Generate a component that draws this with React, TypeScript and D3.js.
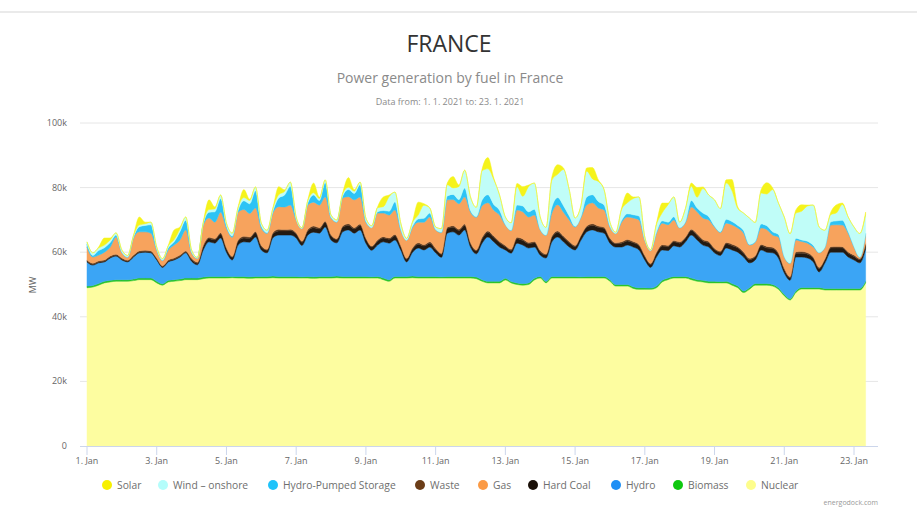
import * as d3 from "d3";
import { useEffect, useRef } from "react";

// samples every 4 hours from 1. 1. 2021 00:00, values in GW
const sampleHours = [0, 4, 8, 12, 16, 20];

const nuclear = [
  49.0, 49.2, 49.8, 50.5, 50.8, 51.0,
  51.0, 51.0, 51.2, 51.5, 51.5, 51.5,
  50.5, 49.8, 50.8, 51.0, 51.2, 51.5,
  51.5, 51.5, 51.8, 52.0, 52.0, 52.0,
  52.0, 52.1, 52.0, 52.0, 51.9, 52.0,
  52.0, 52.0, 52.1, 52.0, 52.0, 52.0,
  52.0, 52.0, 52.0, 51.9, 52.0, 52.0,
  52.0, 52.1, 52.0, 52.0, 52.0, 52.0,
  52.0, 52.0, 52.0, 51.5, 51.0, 52.0,
  52.0, 52.0, 52.1, 52.0, 52.0, 52.0,
  52.0, 52.0, 52.0, 52.0, 52.0, 52.0,
  52.0, 51.8, 51.0, 50.5, 50.5, 50.5,
  51.4, 50.5, 50.0, 49.8, 50.0, 51.4,
  52.0, 50.5, 52.0, 52.0, 52.0, 52.0,
  52.0, 52.0, 52.0, 52.0, 52.0, 52.0,
  51.0, 49.5, 49.5, 49.5, 48.8, 48.5,
  48.5, 48.5, 49.0, 50.8, 51.5, 52.0,
  52.0, 52.0, 51.5, 51.0, 50.8, 50.5,
  50.5, 50.5, 50.5, 49.8, 49.0, 47.5,
  48.5, 49.8, 49.8, 49.8, 49.5, 48.5,
  46.5, 45.2, 47.5, 48.6, 48.6, 48.6,
  48.6, 48.3, 48.3, 48.3, 48.3, 48.3,
  48.3, 48.3, 50.5,
];

const biomass = [
  0.5, 0.5, 0.5, 0.5, 0.5, 0.5,
  0.5, 0.5, 0.5, 0.5, 0.5, 0.5,
  0.5, 0.4, 0.5, 0.5, 0.5, 0.5,
  0.5, 0.5, 0.5, 0.5, 0.5, 0.5,
  0.5, 0.4, 0.5, 0.5, 0.5, 0.5,
  0.5, 0.5, 0.5, 0.5, 0.5, 0.5,
  0.5, 0.4, 0.5, 0.5, 0.5, 0.5,
  0.5, 0.5, 0.5, 0.5, 0.5, 0.5,
  0.5, 0.4, 0.5, 0.5, 0.5, 0.5,
  0.5, 0.5, 0.5, 0.5, 0.5, 0.5,
  0.5, 0.4, 0.5, 0.5, 0.5, 0.5,
  0.5, 0.5, 0.5, 0.5, 0.5, 0.5,
  0.5, 0.4, 0.5, 0.5, 0.5, 0.5,
  0.5, 0.5, 0.5, 0.5, 0.5, 0.5,
  0.5, 0.4, 0.5, 0.5, 0.5, 0.5,
  0.5, 0.5, 0.5, 0.5, 0.5, 0.5,
  0.5, 0.4, 0.5, 0.5, 0.5, 0.5,
  0.5, 0.5, 0.5, 0.5, 0.5, 0.5,
  0.5, 0.4, 0.5, 0.5, 0.5, 0.5,
  0.5, 0.5, 0.5, 0.5, 0.5, 0.5,
  0.5, 0.4, 0.5, 0.5, 0.5, 0.5,
  0.5, 0.5, 0.5, 0.5, 0.5, 0.5,
  0.5, 0.5, 0.5,
];

const hydro = [
  7.5, 6.3, 6.4, 6.0, 6.9, 7.3,
  6.1, 5.5, 6.8, 7.8, 8.0, 7.8,
  6.6, 5.1, 5.7, 6.1, 6.8, 7.8,
  5.2, 4.1, 8.4, 10.7, 10.3, 11.9,
  7.5, 5.1, 9.7, 10.7, 10.7, 12.2,
  8.2, 7.3, 11.9, 12.8, 12.8, 12.8,
  11.9, 9.7, 12.8, 13.8, 13.4, 15.3,
  11.3, 10.3, 13.8, 14.4, 13.4, 14.4,
  10.3, 8.2, 9.7, 11.2, 11.3, 11.3,
  8.2, 4.5, 7.3, 8.8, 8.2, 9.1,
  7.3, 6.0, 13.4, 13.8, 12.8, 14.4,
  9.1, 7.2, 11.3, 13.7, 12.2, 10.6,
  8.8, 8.8, 12.3, 11.9, 10.8, 9.7,
  6.6, 7.2, 10.7, 12.2, 10.7, 9.1,
  8.2, 11.3, 13.8, 14.4, 13.8, 13.4,
  11.3, 11.6, 11.6, 12.2, 12.3, 11.7,
  8.6, 6.4, 9.0, 9.4, 8.5, 9.5,
  9.1, 10.7, 13.3, 12.3, 10.9, 10.6,
  8.8, 8.1, 10.3, 10.4, 10.5, 10.5,
  7.7, 7.3, 10.4, 9.7, 9.8, 9.2,
  6.6, 5.7, 10.5, 9.4, 9.1, 7.9,
  4.8, 7.9, 11.2, 11.2, 11.2, 9.7,
  8.8, 7.9, 10.0,
];

const hardCoal = [
  0.2, 0.2, 0.2, 0.2, 0.2, 0.2,
  0.2, 0.2, 0.2, 0.2, 0.2, 0.2,
  0.2, 0.2, 0.2, 0.2, 0.2, 0.2,
  0.5, 0.5, 1.0, 1.0, 1.0, 1.2,
  1.0, 0.8, 1.2, 1.2, 1.2, 1.3,
  1.0, 0.8, 1.2, 1.3, 1.3, 1.4,
  1.2, 1.0, 1.3, 1.4, 1.3, 1.4,
  1.2, 1.0, 1.4, 1.4, 1.3, 1.4,
  1.2, 1.0, 1.2, 1.2, 1.2, 1.3,
  1.0, 0.8, 1.0, 1.2, 1.2, 1.2,
  1.0, 0.9, 1.4, 1.4, 1.4, 1.4,
  1.0, 0.9, 1.4, 1.4, 1.4, 1.3,
  1.0, 0.9, 1.4, 1.4, 1.3, 1.3,
  1.0, 0.9, 1.4, 1.4, 1.4, 1.3,
  1.0, 1.2, 1.4, 1.4, 1.4, 1.4,
  1.2, 1.0, 1.2, 1.3, 1.3, 1.3,
  1.0, 0.9, 1.1, 1.2, 1.2, 1.2,
  1.2, 1.2, 1.4, 1.4, 1.3, 1.3,
  1.0, 1.0, 1.3, 1.3, 1.3, 1.2,
  1.0, 1.0, 1.3, 1.3, 1.3, 1.2,
  1.0, 0.8, 1.2, 1.2, 1.2, 1.1,
  1.0, 1.0, 1.3, 1.3, 1.3, 1.2,
  1.1, 1.0, 1.2,
];

const waste = [
  0.4, 0.4, 0.4, 0.4, 0.4, 0.4,
  0.4, 0.3, 0.4, 0.4, 0.4, 0.4,
  0.4, 0.3, 0.4, 0.4, 0.4, 0.4,
  0.4, 0.3, 0.4, 0.4, 0.4, 0.4,
  0.4, 0.3, 0.4, 0.5, 0.4, 0.4,
  0.4, 0.3, 0.4, 0.5, 0.4, 0.4,
  0.4, 0.3, 0.4, 0.5, 0.4, 0.4,
  0.4, 0.3, 0.4, 0.5, 0.4, 0.4,
  0.4, 0.3, 0.4, 0.4, 0.4, 0.4,
  0.4, 0.3, 0.4, 0.4, 0.4, 0.4,
  0.4, 0.3, 0.4, 0.5, 0.4, 0.4,
  0.4, 0.3, 0.4, 0.5, 0.4, 0.4,
  0.4, 0.3, 0.4, 0.5, 0.4, 0.4,
  0.4, 0.3, 0.4, 0.5, 0.4, 0.4,
  0.4, 0.3, 0.4, 0.5, 0.4, 0.4,
  0.4, 0.3, 0.4, 0.4, 0.4, 0.4,
  0.4, 0.3, 0.4, 0.4, 0.4, 0.4,
  0.4, 0.3, 0.4, 0.5, 0.4, 0.4,
  0.4, 0.3, 0.4, 0.5, 0.4, 0.4,
  0.4, 0.3, 0.4, 0.5, 0.4, 0.4,
  0.4, 0.3, 0.4, 0.5, 0.4, 0.4,
  0.4, 0.3, 0.4, 0.5, 0.4, 0.4,
  0.4, 0.3, 0.4,
];

const gas = [
  4.0, 1.9, 1.8, 2.4, 2.8, 5.3,
  1.6, 0.9, 5.3, 5.9, 5.7, 5.5,
  2.5, 1.6, 3.1, 4.0, 4.7, 6.5,
  1.7, 1.2, 6.3, 6.0, 5.1, 6.4,
  6.1, 5.9, 8.6, 8.3, 7.3, 7.3,
  5.4, 4.9, 6.1, 7.0, 7.0, 7.5,
  4.0, 3.9, 7.6, 7.4, 7.0, 7.5,
  5.2, 5.1, 8.7, 8.4, 8.6, 8.4,
  4.9, 5.7, 8.3, 7.3, 7.1, 7.6,
  4.8, 5.6, 6.3, 6.4, 7.0, 7.7,
  5.7, 6.5, 8.5, 8.1, 7.9, 8.4,
  9.4, 10.1, 9.8, 8.7, 8.0, 8.2,
  6.3, 5.8, 8.5, 8.4, 7.9, 8.2,
  6.4, 5.8, 7.1, 8.1, 7.4, 6.7,
  5.7, 5.5, 6.5, 6.5, 5.6, 5.4,
  3.4, 2.9, 6.1, 7.0, 7.3, 7.6,
  4.8, 4.0, 5.9, 6.7, 6.4, 6.4,
  4.3, 4.5, 6.9, 6.8, 6.7, 6.7,
  6.6, 5.8, 6.0, 6.0, 5.8, 5.8,
  4.1, 4.2, 5.1, 5.2, 3.8, 4.9,
  3.5, 4.1, 3.7, 3.1, 3.0, 3.1,
  4.5, 3.5, 6.7, 6.7, 6.7, 5.8,
  2.5, 0.4, 3.0,
];

const pumpedStorage = [
  1.0, 0.5, 1.4, 1.4, 1.4, 0.6,
  0.2, 0.1, 0.3, 1.6, 2.0, 2.6,
  0.2, 0.1, 0.7, 1.0, 2.6, 3.0,
  0.2, 0.0, 0.3, 1.8, 3.2, 4.2,
  0.7, 0.4, 0.5, 2.7, 3.0, 5.3,
  0.6, 0.2, 0.5, 2.7, 3.7, 5.8,
  0.2, 0.0, 0.6, 2.2, 1.4, 4.5,
  0.2, 0.1, 0.6, 2.2, 2.0, 3.8,
  0.3, 0.0, 0.4, 0.8, 1.2, 2.5,
  0.3, 0.0, 0.4, 1.0, 1.2, 1.2,
  0.1, 0.1, 1.2, 1.6, 1.3, 2.8,
  0.5, 0.2, 1.8, 2.5, 1.8, 1.5,
  0.2, 0.1, 1.5, 1.8, 1.6, 1.8,
  0.2, 0.1, 1.8, 2.2, 2.0, 1.2,
  0.2, 0.3, 2.5, 2.5, 2.0, 1.5,
  0.2, 0.0, 0.5, 1.0, 1.0, 1.2,
  0.0, 0.0, 0.3, 0.7, 0.8, 1.0,
  0.1, 0.3, 2.0, 1.2, 1.5, 1.0,
  0.3, 0.2, 1.2, 1.0, 0.8, 0.8,
  0.2, 0.2, 1.2, 1.2, 1.0, 0.8,
  0.2, 0.1, 0.5, 0.5, 0.6, 0.5,
  0.1, 0.1, 1.0, 1.2, 1.5, 0.5,
  0.2, 0.1, 0.3,
];

const windOnshore = [
  0.6, 0.8, 0.8, 0.8, 0.8, 0.7,
  0.7, 0.5, 0.4, 0.5, 0.5, 0.8,
  0.7, 0.5, 0.6, 0.7, 0.8, 1.0,
  0.7, 0.3, 0.4, 0.8, 0.9, 1.1,
  0.8, 0.9, 0.9, 1.0, 1.0, 1.2,
  0.9, 0.8, 0.9, 1.0, 1.1, 1.3,
  0.7, 0.3, 0.8, 0.7, 0.6, 0.8,
  0.7, 0.6, 0.7, 0.7, 0.7, 0.8,
  1.0, 0.6, 1.3, 1.2, 4.5, 3.0,
  1.8, 0.6, 1.2, 1.2, 4.0, 1.6,
  0.8, 1.1, 3.5, 2.0, 4.0, 5.5,
  4.2, 2.9, 9.0, 8.0, 7.7, 4.7,
  2.3, 2.3, 5.7, 3.0, 7.8, 8.1,
  3.8, 2.4, 8.4, 7.2, 11.2, 8.1,
  2.6, 3.4, 8.0, 4.9, 6.2, 4.7,
  1.3, 0.4, 3.4, 3.4, 5.0, 5.9,
  0.9, 0.3, 2.3, 2.5, 5.4, 6.1,
  1.7, 4.1, 4.4, 3.3, 7.6, 6.7,
  8.1, 7.2, 11.2, 9.5, 5.2, 5.4,
  8.2, 5.9, 9.6, 9.8, 13.1, 9.7,
  12.2, 9.1, 7.8, 8.9, 10.9, 12.5,
  7.9, 5.2, 2.2, 2.5, 4.9, 4.5,
  6.0, 7.3, 5.7,
];

const solar = [
  0, 0, 0.3, 2.2, 0.6, 0,
  0, 0, 0.2, 2.5, 0.5, 0,
  0, 0, 0.2, 3.0, 0.6, 0,
  0, 0, 0.2, 3.0, 0.6, 0,
  0, 0, 0.2, 2.5, 0.4, 0,
  0, 0, 0.2, 2.5, 0.5, 0,
  0, 0, 0.2, 3.0, 0.4, 0,
  0, 0, 0.2, 3.0, 0.4, 0,
  0, 0, 0.2, 3.0, 0.5, 0,
  0, 0, 0.2, 4.0, 0.5, 0,
  0, 0, 0.5, 3.5, 0.5, 0,
  0, 0, 0.6, 3.5, 0.5, 0,
  0, 0, 1.0, 3.0, 0.5, 0,
  0, 0, 1.0, 3.0, 0.5, 0,
  0, 0, 1.0, 3.5, 0.5, 0,
  0, 0, 0.5, 3.0, 0.5, 0,
  0, 0, 0.5, 3.0, 0.5, 0,
  0, 0, 1.0, 3.0, 0.5, 0,
  0, 0, 1.0, 3.5, 0.5, 0,
  0, 0, 1.0, 3.5, 0.5, 0,
  0, 0, 1.0, 2.0, 0.3, 0,
  0, 0, 0.8, 2.5, 0.4, 0,
  0, 0, 0.8,
];

const xTickDays = [1, 3, 5, 7, 9, 11, 13, 15, 17, 19, 21, 23];
const yTicks = [0, 20, 40, 60, 80, 100];
const yTickLabels = ["0", "20k", "40k", "60k", "80k", "100k"];

// legend order (top of stack first)
const legendNames = ["Solar", "Wind – onshore", "Hydro-Pumped Storage", "Waste", "Gas", "Hard Coal", "Hydro", "Biomass", "Nuclear"];
const legendColors = ["#f7f000", "#b4fdfb", "#1fc3fa", "#6b3d18", "#fb9a45", "#1a1008", "#1e8ff5", "#0fc80f", "#fdfd8c"];
const legendX = [107, 163, 273, 420, 483, 533, 616, 678, 751];

const stackKeys = ["nuclear", "biomass", "hydro", "hardCoal", "waste", "gas", "pumpedStorage", "windOnshore", "solar"];
const areaColors: Record<string, string> = {
  nuclear: "#fdfda0",
  biomass: "#2ac42a",
  hydro: "#3ba5f5",
  hardCoal: "#231a12",
  waste: "#5a3a20",
  gas: "#f7a35d",
  pumpedStorage: "#2dc3f5",
  windOnshore: "#c0fdf8",
  solar: "#f5f31c",
};

const font = "'Open Sans', sans-serif";

export default function App() {
  const svgRef = useRef<SVGSVGElement>(null);

  useEffect(() => {
    const w = 917;
    const h = 516;
    const svg = d3.select(svgRef.current).attr("width", w).attr("height", h);
    svg.selectAll("*").remove();

    const rows = nuclear.map((_, i) => ({
      t: new Date(Date.UTC(2021, 0, 1 + Math.floor(i / 6), sampleHours[i % 6])),
      nuclear: nuclear[i],
      biomass: biomass[i],
      hydro: hydro[i],
      hardCoal: hardCoal[i],
      waste: waste[i],
      gas: gas[i],
      pumpedStorage: pumpedStorage[i],
      windOnshore: windOnshore[i],
      solar: solar[i],
    }));

    //scaling
    const xScale = d3
      .scaleUtc()
      .domain([new Date(Date.UTC(2021, 0, 1)), new Date(Date.UTC(2021, 0, 23))])
      .range([87, 854]);
    const yScale = d3.scaleLinear().domain([0, 100]).range([446, 123]);
    const plotLeft = 80;
    const plotRight = 878;

    //card border
    svg.append("line").attr("x1", 0).attr("x2", w).attr("y1", 12).attr("y2", 12)
      .attr("stroke", "#e3e3e3").attr("stroke-width", 1.5);

    //titles
    svg.append("text").attr("x", 449).attr("y", 52).attr("text-anchor", "middle")
      .attr("font-family", font).attr("font-size", 23).attr("fill", "#333")
      .text("FRANCE");
    svg.append("text").attr("x", 450).attr("y", 83).attr("text-anchor", "middle")
      .attr("font-family", font).attr("font-size", 14).attr("fill", "#8a8a8a")
      .text("Power generation by fuel in France");
    svg.append("text").attr("x", 450).attr("y", 105).attr("text-anchor", "middle")
      .attr("font-family", font).attr("font-size", 9).attr("fill", "#8a8a8a")
      .text("Data from: 1. 1. 2021 to: 23. 1. 2021");

    //grid
    svg.append("g").selectAll("line").data(yTicks.slice(1)).join("line")
      .attr("x1", plotLeft).attr("x2", plotRight)
      .attr("y1", (d) => yScale(d)).attr("y2", (d) => yScale(d))
      .attr("stroke", "#e6e6e6");

    //areas
    const series = d3.stack<any>().keys(stackKeys)(rows);
    const area = d3
      .area<any>()
      .curve(d3.curveMonotoneX)
      .x((d) => xScale(d.data.t))
      .y0((d) => yScale(d[0]))
      .y1((d) => yScale(d[1]));
    svg.append("g").selectAll("path").data(series).join("path")
      .attr("d", area as any)
      .attr("fill", (s) => areaColors[s.key])
      .attr("stroke", (s) => areaColors[s.key])
      .attr("stroke-width", 0.5);

    //y axis labels
    svg.append("g").selectAll("text").data(yTicks).join("text")
      .attr("x", 67).attr("y", (d) => yScale(d) + 3)
      .attr("text-anchor", "end")
      .attr("font-family", font).attr("font-size", 9).attr("fill", "#666")
      .text((_, i) => yTickLabels[i]);
    svg.append("text").attr("transform", "translate(36,285) rotate(-90)")
      .attr("text-anchor", "middle")
      .attr("font-family", font).attr("font-size", 9).attr("fill", "#666")
      .text("MW");

    //x axis
    svg.append("line").attr("x1", plotLeft).attr("x2", plotRight)
      .attr("y1", 446.5).attr("y2", 446.5).attr("stroke", "#ccd6eb");
    const ticks = xTickDays.map((d) => new Date(Date.UTC(2021, 0, d)));
    svg.append("g").selectAll("line").data(ticks).join("line")
      .attr("x1", (d) => xScale(d)).attr("x2", (d) => xScale(d))
      .attr("y1", 446).attr("y2", 455).attr("stroke", "#ccd6eb");
    svg.append("g").selectAll("text").data(xTickDays).join("text")
      .attr("x", (d) => xScale(new Date(Date.UTC(2021, 0, d))))
      .attr("y", 464).attr("text-anchor", "middle")
      .attr("font-family", font).attr("font-size", 9).attr("fill", "#666")
      .text((d) => `${d}. Jan`);

    //legend
    const legend = svg.append("g").selectAll("g").data(legendNames).join("g")
      .attr("transform", (_, i) => `translate(${legendX[i]},485)`);
    legend.append("circle").attr("r", 5).attr("fill", (_, i) => legendColors[i]);
    legend.append("text").attr("x", 10).attr("y", 3.5)
      .attr("font-family", font).attr("font-size", 10.3).attr("fill", "#6e6e6e")
      .text((d) => d);

    //credit
    svg.append("text").attr("x", 878).attr("y", 505).attr("text-anchor", "end")
      .attr("font-family", font).attr("font-size", 7).attr("fill", "#999")
      .text("energodock.com");
  }, []);

  return (
    <div style={{ position: "absolute", left: 0, top: 0 }}>
      <svg ref={svgRef}></svg>
    </div>
  );
}
